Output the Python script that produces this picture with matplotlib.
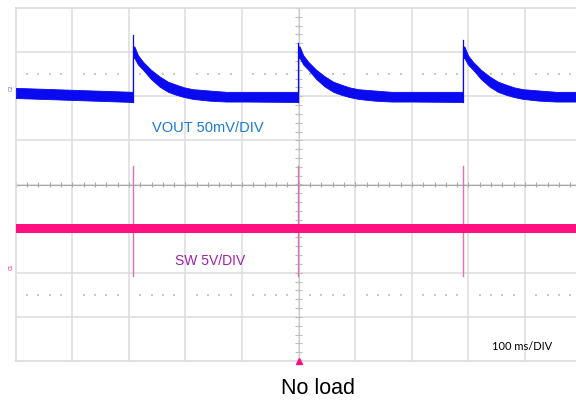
import matplotlib
matplotlib.use("Agg")
import matplotlib.pyplot as plt
import numpy as np

# ---- data (time in ms, 100 ms/div; amplitude in screen divisions, centre = 0) ----
event_ms = [207, 499, 790]
vout_tip = [3.39, 3.20, 3.28]

# VOUT envelope after each load pulse (ms after event, upper edge, lower edge)
decay_ms = [0, 3, 9, 18, 32, 47, 62, 77, 91, 106, 135, 165, 200]
decay_hi = [3.14, 3.12, 2.93, 2.78, 2.60, 2.45, 2.33, 2.26, 2.20, 2.16, 2.13, 2.10, 2.10]
decay_lo = [2.88, 2.86, 2.72, 2.60, 2.39, 2.22, 2.10, 2.03, 1.98, 1.94, 1.90, 1.88, 1.88]
vout_start_hi, vout_start_lo = 2.19, 1.96
vout_base_hi, vout_base_lo = 2.10, 1.87

# SW trace
sw_hi, sw_lo = -0.90, -1.09
sw_spike_top, sw_spike_bottom = 0.43, -2.07

BLUE = "#0a0af0"
PINK = "#ff0f80"
SPIKE_PINK = "#e070b4"
GRID = "#dcdcdc"

fig = plt.figure(figsize=(5.76, 4.05), dpi=100)
ax = fig.add_axes([15.7 / 576, 44 / 405, 566 / 576, 353 / 405])
ax.set_xlim(0, 1000)
ax.set_ylim(-4, 4)
ax.set_xticks([])
ax.set_yticks([])
for s in ax.spines.values():
    s.set_color(GRID)
    s.set_linewidth(1.2)

# grid
for i in range(1, 10):
    ax.axvline(i * 100, color=GRID, lw=1.1, zorder=0)
for j in range(-3, 4):
    ax.axhline(j, color=GRID, lw=1.1, zorder=0)
# centre lines with minor ticks
ax.axhline(0, color="#a8a8a8", lw=0.8, zorder=0.5)
ax.axvline(500, color="#cccccc", lw=0.8, zorder=0.5)
tx = np.arange(0, 1001, 20)
ax.vlines(tx, -0.06, 0.06, color="#a8a8a8", lw=0.8, zorder=0.5)
ty = np.arange(-4, 4.01, 0.2)
ax.hlines(ty, 494, 506, color="#bdbdbd", lw=0.8, zorder=0.5)
# dotted reference rows
dx = np.array([x for x in np.arange(20, 1000, 20) if x % 100 != 0])
for yy in (2.5, -2.5):
    ax.scatter(dx, np.full_like(dx, yy, dtype=float), s=1.2, color="#c8c8c8",
               marker="s", linewidths=0, zorder=0.5)

# build VOUT envelope
xs, hi, lo = [0, event_ms[0]], [vout_start_hi, vout_base_hi], [vout_start_lo, vout_base_lo]
for k, e in enumerate(event_ms):
    for d, h, l in zip(decay_ms, decay_hi, decay_lo):
        xs.append(e + d); hi.append(h); lo.append(l)
    nxt = event_ms[k + 1] if k + 1 < len(event_ms) else 1010
    xs.append(nxt); hi.append(vout_base_hi); lo.append(vout_base_lo)
ax.fill_between(xs, lo, hi, color=BLUE, lw=0.6, edgecolor=BLUE, zorder=3)
for e, tip in zip(event_ms, vout_tip):
    ax.plot([e, e], [vout_base_lo, tip], color=BLUE, lw=0.9, zorder=3)

# SW trace
for e in event_ms:
    ax.plot([e, e], [sw_spike_bottom, sw_spike_top], color=SPIKE_PINK, lw=1.0, zorder=2)
ax.fill_between([0, 1010], [sw_lo, sw_lo], [sw_hi, sw_hi], color=PINK, lw=0, zorder=3)

# markers
ax.plot([500], [-4], marker="^", color=PINK, ms=4, clip_on=False, zorder=5)
fig.text(11 / 576, 1 - 88 / 405, "C2", color="#6060c0", fontsize=3.5, rotation=90,
         ha="center", va="center")
fig.text(11 / 576, 1 - 267 / 405, "C1", color=PINK, fontsize=3.5, rotation=90,
         ha="center", va="center")

# labels
fig.text(152 / 576, 1 - 128 / 405, "VOUT 50mV/DIV", color="#1a7ad8", fontsize=10.5,
         family="Liberation Sans", ha="left", va="center")
fig.text(175 / 576, 1 - 261 / 405, "SW 5V/DIV", color="#a020a8", fontsize=10,
         family="Liberation Sans", ha="left", va="center")
fig.text(492 / 576, 1 - 346 / 405, "100 ms/DIV", color="black", fontsize=8,
         family="Lato", ha="left", va="center")
fig.text(318 / 576, 1 - 388 / 405, "No load", color="black", fontsize=15.5,
         family="Liberation Sans", ha="center", va="center")

fig.savefig("out.png", dpi=100)
